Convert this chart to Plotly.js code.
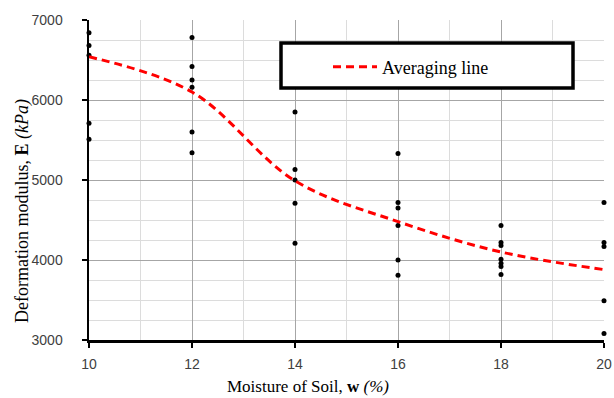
<!DOCTYPE html>
<html>
<head>
<meta charset="utf-8">
<script src="https://cdn.plot.ly/plotly-3.0.1.min.js"></script>
<style>html,body{margin:0;padding:0;background:#fff;}#chart{width:614px;height:398px;}</style>
</head>
<body>
<div id="chart"></div>
<script>
// Measured points (moisture %, deformation modulus kPa)
const moistureX = [10,10,10,10,10, 12,12,12,12,12,12, 14,14,14,14,14, 16,16,16,16,16,16, 18,18,18,18,18,18,18, 20,20,20,20,20];
const modulusE  = [6840,6680,6560,5710,5510, 6780,6420,6250,6160,5600,5340, 5850,5130,5000,4710,4210, 5330,4720,4650,4430,4000,3810, 4430,4220,4180,4010,3960,3920,3820, 4720,4220,4170,3490,3080];
// Averaging line anchors
const avgX = [10,12,14,16,18,20];
const avgE = [6540,6100,4990,4480,4100,3880];
const xTicks = [10,12,14,16,18,20];
const yTicks = [3000,4000,5000,6000,7000];

const serif = "Liberation Serif, Times New Roman, serif";
const sans = "Liberation Sans, Arial, sans-serif";

const traces = [
  {x: moistureX, y: modulusE, type:'scatter', mode:'markers', showlegend:false,
   marker:{color:'#000', size:5}, cliponaxis:false, hoverinfo:'x+y'},
  {x: avgX, y: avgE, type:'scatter', mode:'lines', name:'Averaging line',
   line:{color:'#ff0000', width:3, dash:'8px,5px', shape:'spline', smoothing:1}, cliponaxis:false}
];

const L = 89, R = 604, T = 20, B = 340, W = R-L, H = B-T;
const px = v => (v-L)/W, py = v => (B-v)/H;

const layout = {
  width:614, height:398,
  margin:{l:L, r:614-R, t:T, b:398-B, pad:0},
  paper_bgcolor:'#fff', plot_bgcolor:'#fff',
  showlegend:true,
  xaxis:{range:[10,20], tickvals:xTicks, ticktext:xTicks.map(String),
    showgrid:true, gridcolor:'#a6a6a6', gridwidth:1,
    minor:{dtick:1, showgrid:true, gridcolor:'#dcdcdc', gridwidth:1, ticks:''},
    showline:true, linecolor:'#000', linewidth:2.5, zeroline:false,
    ticks:'outside', ticklen:5, tickwidth:2, tickcolor:'#000',
    tickfont:{family:sans, size:14, color:'#404040'}, ticklabelstandoff:5},
  yaxis:{range:[3000,7000], tickvals:yTicks, ticktext:yTicks.map(String),
    showgrid:true, gridcolor:'#a6a6a6', gridwidth:1,
    minor:{dtick:250, showgrid:true, gridcolor:'#dcdcdc', gridwidth:1, ticks:''},
    showline:true, linecolor:'#000', linewidth:2.5, zeroline:false,
    ticks:'outside', ticklen:5, tickwidth:2, tickcolor:'#000',
    tickfont:{family:sans, size:14, color:'#404040'}, ticklabelstandoff:16},
  legend:{x:px(328), y:py(67), xanchor:'left', yanchor:'middle', bgcolor:'rgba(0,0,0,0)',
    borderwidth:0, font:{family:serif, size:18, color:'#000'}, itemwidth:44},
  shapes:[{type:'rect', xref:'paper', yref:'paper', x0:px(281), x1:px(573), y0:py(88), y1:py(43),
    line:{color:'#000', width:3.5}, fillcolor:'#fff', layer:'above'}],
  annotations:[
    {xref:'paper', yref:'paper', x:px(308), y:py(386), xanchor:'center', yanchor:'middle', showarrow:false,
     text:'Moisture of Soil, <b>w</b> <i>(%)</i>', font:{family:serif, size:17, color:'#000'}},
    {xref:'paper', yref:'paper', x:px(22), y:py(211), xanchor:'center', yanchor:'middle', showarrow:false, textangle:-90,
     text:'Deformation modulus, <b>E</b> <i>(kPa)</i>', font:{family:serif, size:18, color:'#000'}}
  ]
};
Plotly.newPlot('chart', traces, layout, {staticPlot:true});
</script>
</body>
</html>
